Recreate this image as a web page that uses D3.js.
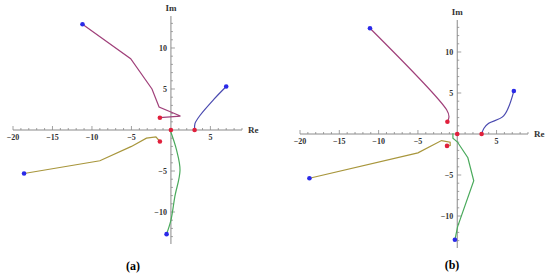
<!DOCTYPE html>
<html>
<head>
<meta charset="utf-8">
<script src="https://cdn.jsdelivr.net/npm/d3@7"></script>
<style>
  body { margin: 0; background: #fff; }
  svg text { font-family: "Liberation Serif", "DejaVu Serif", serif; }
</style>
</head>
<body>
<svg id="chart" width="550" height="279"></svg>
<script>
// root locus branches, panel (a)
const purpleA = [[-11.2, 12.9], [-5.1, 8.7], [-2.4, 5.0], [-1.5, 2.8], [1.2, 1.7], [-1.4, 1.5]];
const blueA = [[7.0, 5.3], [5.4, 3.7], [3.7, 1.8], [3.05, 0.8], [3.0, 0]];
const oliveA = [[-18.6, -5.3], [-9.0, -3.75], [-5.0, -2.0], [-3.1, -1.0], [-1.9, -0.85], [-1.4, -1.4]];
const greenA = [[-0.1, 0], [0.7, -2.4], [1.15, -4.9], [0.5, -8.1], [0, -11], [-0.55, -12.7]];
const startA = [[-11.2, 12.9], [7.0, 5.3], [-18.6, -5.3], [-0.55, -12.7]];
const endA = [[0, 0], [3.0, 0], [-1.4, 1.5], [-1.4, -1.4]];

// panel (b)
const purpleB = [[-11.1, 12.9], [-1.35, 2.95], [-1.05, 2.1], [-1.25, 1.5]];
const blueB = [[3.1, 0], [3.4, 0.7], [4.0, 1.3], [5.9, 2.2], [7.2, 5.25]];
const oliveB = [[-18.8, -5.4], [-5.0, -2.3], [-2.0, -0.8], [-0.9, -1.0], [-0.9, -1.4], [-1.3, -1.45]];
const greenB = [[-0.55, 0.1], [-0.55, -0.5], [0, -0.95], [1.35, -2.9], [2.1, -5.7], [0.05, -11.3], [-0.3, -12.9]];
const startB = [[-11.1, 12.9], [7.2, 5.25], [-18.8, -5.4], [-0.3, -12.9]];
const endB = [[0, 0], [3.1, 0], [-1.25, 1.5], [-1.3, -1.45]];

const xTicks = [-20, -15, -10, -5, 5];
const yTicks = [-10, -5, 5, 10];
const colors = ['#a0407a', '#4a4ab0', '#a8963c', '#4aaa5c'];

const svg = d3.select('#chart');

function panel(opt) {
    const x = d3.scaleLinear().domain([-20, 9]).range(opt.xr);
    const y = d3.scaleLinear().domain([13.9, -13.9]).range(opt.yr);
    const g = svg.append('g');
    const axisColor = '#8a8a8a';

    // x axis
    const x0 = x(0), y0 = y(0);
    g.append('line').attr('x1', x(-20)).attr('x2', x(9)).attr('y1', y0).attr('y2', y0)
        .attr('stroke', axisColor).attr('stroke-width', 1);
    g.selectAll('.xt').data(d3.range(-20, 10).filter(d => d !== 0)).enter().append('line')
        .attr('x1', d => x(d)).attr('x2', d => x(d))
        .attr('y1', y0).attr('y2', d => y0 - (d % 5 === 0 ? 4 : 2))
        .attr('stroke', axisColor).attr('stroke-width', 0.8);
    g.selectAll('.xl').data(xTicks).enter().append('text')
        .attr('x', d => x(d)).attr('y', y0 + 10)
        .attr('text-anchor', 'middle').attr('font-size', 8).attr('font-weight', 'bold')
        .attr('fill', '#333').text(d => d < 0 ? '\u2212' + (-d) : d);

    // y axis
    g.append('line').attr('x1', x0).attr('x2', x0).attr('y1', y(13.9)).attr('y2', y(-13.9))
        .attr('stroke', axisColor).attr('stroke-width', 1);
    g.selectAll('.yt').data(d3.range(-13, 14).filter(d => d !== 0)).enter().append('line')
        .attr('y1', d => y(d)).attr('y2', d => y(d))
        .attr('x1', x0).attr('x2', d => x0 + (d % 5 === 0 ? 4 : 2))
        .attr('stroke', axisColor).attr('stroke-width', 0.8);
    g.selectAll('.yl').data(yTicks).enter().append('text')
        .attr('x', x0 - 4).attr('y', d => y(d) + 3)
        .attr('text-anchor', 'end').attr('font-size', 8).attr('font-weight', 'bold')
        .attr('fill', '#333').text(d => d < 0 ? '\u2212' + (-d) : d);

    g.append('text').attr('x', x(9) + 6).attr('y', y0 + 3)
        .attr('font-size', 9).attr('font-weight', 'bold').attr('fill', '#333').text('Re');
    g.append('text').attr('x', x0).attr('y', y(13.9) - 5).attr('text-anchor', 'middle')
        .attr('font-size', 9).attr('font-weight', 'bold').attr('fill', '#333').text('Im');

    const line = d3.line().x(d => x(d[0])).y(d => y(d[1]));
    opt.branches.forEach((b, i) => {
        g.append('path').datum(b.pts)
            .attr('d', line.curve(b.smooth ? d3.curveCatmullRom : d3.curveLinear))
            .attr('fill', 'none').attr('stroke', colors[i]).attr('stroke-width', 1.2);
    });

    g.selectAll('.s').data(opt.start).enter().append('circle')
        .attr('cx', d => x(d[0])).attr('cy', d => y(d[1])).attr('r', 2.3).attr('fill', '#2a2ae8');
    g.selectAll('.e').data(opt.end).enter().append('circle')
        .attr('cx', d => x(d[0])).attr('cy', d => y(d[1])).attr('r', 2.3).attr('fill', '#e0203c');

    g.append('text').attr('x', opt.cap[0]).attr('y', opt.cap[1]).attr('text-anchor', 'middle')
        .attr('font-size', 12).attr('font-weight', 'bold').attr('fill', '#000').text(opt.label);
}

panel({
    xr: [13, 242], yr: [16, 244],
    branches: [{pts: purpleA}, {pts: blueA, smooth: true}, {pts: oliveA}, {pts: greenA, smooth: true}],
    start: startA, end: endA, label: '(a)', cap: [133, 270]
});
panel({
    xr: [300, 528], yr: [20, 248],
    branches: [{pts: purpleB, smooth: true}, {pts: blueB, smooth: true}, {pts: oliveB}, {pts: greenB}],
    start: startB, end: endB, label: '(b)', cap: [452, 269]
});
</script>
</body>
</html>
